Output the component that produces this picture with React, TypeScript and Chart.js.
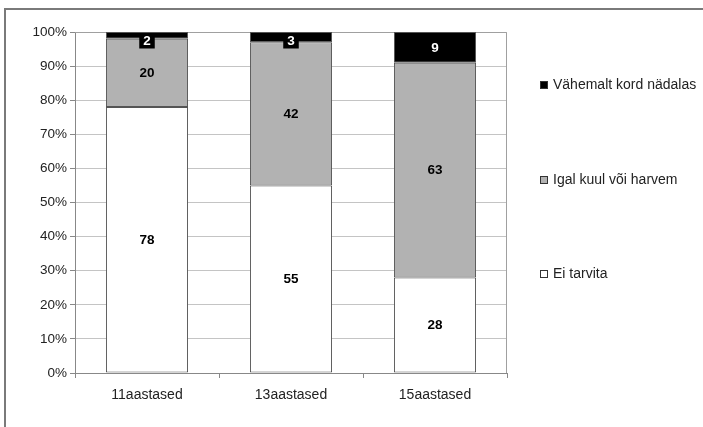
import React, { useEffect, useRef } from 'react';
import { Chart, registerables } from 'chart.js';
Chart.register(...registerables);

const categories = ['11aastased', '13aastased', '15aastased'];
const eiTarvita = [78, 55, 28];
const igalKuul = [20, 42, 63];
const vahemalt = [2, 3, 9];
const seriesNames = ['Ei tarvita', 'Igal kuul või harvem', 'Vähemalt kord nädalas'];
const seriesColors = ['#ffffff', '#b2b2b2', '#000000'];
const labelColors = ['#000000', '#000000', '#ffffff'];
const legendCenters = [274, 180, 85];

const FONT = "'Liberation Sans', Arial, sans-serif";

const framePlugin = {
  id: 'frame',
  beforeDraw(chart: any) {
    const ctx = chart.ctx;
    ctx.save();
    ctx.fillStyle = '#ffffff';
    ctx.fillRect(0, 0, chart.width, chart.height);
    ctx.strokeStyle = '#7a7a7a';
    ctx.lineWidth = 2;
    ctx.beginPath();
    ctx.moveTo(5, chart.height);
    ctx.lineTo(5, 9);
    ctx.lineTo(chart.width, 9);
    ctx.stroke();
    ctx.restore();
  },
  beforeDatasetsDraw(chart: any) {
    const { ctx, chartArea } = chart;
    ctx.save();
    ctx.strokeStyle = '#a0a0a0';
    ctx.lineWidth = 1;
    ctx.beginPath();
    ctx.moveTo(chartArea.left, chartArea.top + 0.5);
    ctx.lineTo(chartArea.right - 0.5, chartArea.top + 0.5);
    ctx.lineTo(chartArea.right - 0.5, chartArea.bottom);
    ctx.stroke();
    ctx.restore();
  },
};

const labelPlugin = {
  id: 'segLabels',
  afterDatasetsDraw(chart: any) {
    const { ctx, chartArea } = chart;
    ctx.save();
    ctx.font = `bold 13.5px ${FONT}`;
    ctx.textAlign = 'center';
    ctx.textBaseline = 'middle';
    chart.data.datasets.forEach((ds: any, di: number) => {
      const meta = chart.getDatasetMeta(di);
      meta.data.forEach((bar: any, i: number) => {
        const v = ds.data[i];
        const top = Math.min(bar.y, bar.base);
        const bottom = Math.max(bar.y, bar.base);
        let cy = (top + bottom) / 2;
        if (cy < chartArea.top + 9) cy = chartArea.top + 9;
        const text = String(v);
        if (di === 2) {
          const w = ctx.measureText(text).width + 8;
          ctx.fillStyle = '#000000';
          ctx.fillRect(bar.x - w / 2, cy - 7.5, w, 15);
        }
        ctx.fillStyle = labelColors[di];
        ctx.fillText(text, bar.x, cy + 0.5);
      });
    });
    ctx.restore();
  },
};

const legendPlugin = {
  id: 'sideLegend',
  afterDraw(chart: any) {
    const ctx = chart.ctx;
    ctx.save();
    ctx.font = `14px ${FONT}`;
    ctx.textBaseline = 'middle';
    ctx.textAlign = 'left';
    chart.data.datasets.forEach((ds: any, di: number) => {
      const cy = legendCenters[di];
      ctx.fillStyle = ds.backgroundColor;
      ctx.fillRect(540.5, cy - 3.5, 7, 7);
      ctx.strokeStyle = '#333333';
      ctx.lineWidth = 1;
      ctx.strokeRect(540.5, cy - 3.5, 7, 7);
      ctx.fillStyle = '#222222';
      ctx.fillText(ds.label, 553, cy);
    });
    ctx.restore();
  },
};

export default function App() {
  const ref = useRef<HTMLCanvasElement>(null);
  useEffect(() => {
    if (!ref.current) return;
    const values = [eiTarvita, igalKuul, vahemalt];
    const chart = new Chart(ref.current, {
      type: 'bar',
      data: {
        labels: categories,
        datasets: values.map((d, i) => ({
          label: seriesNames[i],
          data: d,
          backgroundColor: seriesColors[i],
          borderColor: '#555555',
          borderWidth: 1,
          borderSkipped: false,
          categoryPercentage: 1,
          barPercentage: 0.57,
        })),
      },
      options: {
        animation: false,
        responsive: false,
        devicePixelRatio: 1,
        layout: { padding: { left: 0, top: 32, right: 196, bottom: 0 } },
        plugins: { legend: { display: false }, tooltip: { enabled: false } },
        scales: {
          x: {
            stacked: true,
            afterFit: (s: any) => { s.height = 54; },
            grid: { display: true, drawOnChartArea: false, drawTicks: true, tickLength: 5, color: '#888888', offset: true },
            border: { display: true, color: '#888888' },
            ticks: { color: '#222222', font: { family: FONT, size: 14 }, padding: 9 },
          },
          y: {
            stacked: true,
            min: 0,
            max: 100,
            afterFit: (s: any) => { s.width = 75; },
            ticks: { stepSize: 10, color: '#222222', font: { family: FONT, size: 13.5 }, padding: 3, callback: (v: any) => `${v}%` },
            grid: { color: '#c4c4c4', tickColor: '#888888', tickLength: 5 },
            border: { display: true, color: '#888888' },
          },
        },
      },
      plugins: [framePlugin, labelPlugin, legendPlugin],
    });
    return () => chart.destroy();
  }, []);
  return (
    <div style={{ position: 'absolute', left: 0, top: 0, width: 703, height: 427 }}>
      <canvas ref={ref} width={703} height={427} />
    </div>
  );
}
